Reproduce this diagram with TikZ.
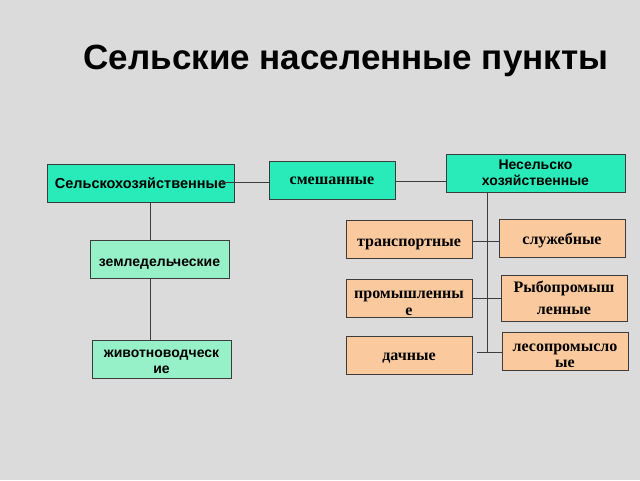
\documentclass[tikz,border=0pt]{standalone}
\usepackage{fontspec}
\setmainfont{Liberation Serif}
\newfontfamily\arialf{Liberation Sans}
\newcommand\lowtxt[2]{\raisebox{-#1}[\height][\depth]{\begin{tabular}{@{}c@{}}#2\end{tabular}}}
\definecolor{bgc}{RGB}{219,219,219}
\definecolor{aqua}{RGB}{40,235,185}
\definecolor{mint}{RGB}{150,240,200}
\definecolor{peach}{RGB}{250,202,158}
\definecolor{edge}{RGB}{60,60,60}
\tikzset{
  bx/.style={draw=edge, line width=0.8pt, minimum width=#1, minimum height=38pt, inner sep=1pt, align=center},
  topbox/.style={bx=#1, fill=aqua, font=\arialf\bfseries\fontsize{14}{16}\selectfont},
  subbox/.style={bx=#1, fill=mint, font=\arialf\bfseries\fontsize{14}{16}\selectfont},
  serbox/.style={bx=#1, fill=peach, font=\bfseries\fontsize{16}{17}\selectfont},
  ln/.style={draw=edge, line width=0.8pt}
}
\begin{document}
\begin{tikzpicture}[x=1pt,y=-1pt]
\fill[bgc] (0,0) rectangle (640,480);
\useasboundingbox (0,0) rectangle (640,480);
\node[font=\arialf\bfseries\fontsize{35}{40}\selectfont] (title) at (346,61) {Сельские населенные пункты};
\node[topbox=187pt, font=\arialf\bfseries\fontsize{14.5}{16}\selectfont] (selkh) at (140.5,183.5) {Сельскохозяйственные};
\node[topbox=126pt, font=\bfseries\fontsize{16}{17}\selectfont] (mix) at (332,180) {\lowtxt{1.5pt}{смешанные}};
\node[topbox=179pt] (nesel) at (535.5,173) {Несельско\\хозяйственные};
\node[subbox=139pt] (zeml) at (159.5,259) {\lowtxt{4pt}{земледельческие}};
\node[subbox=139pt] (zhiv) at (161.5,359.5) {\lowtxt{3pt}{животноводческ\\ие}};
\node[serbox=126pt] (trans) at (409,239.5) {\lowtxt{4pt}{транспортные}};
\node[serbox=126pt] (sluzh) at (562,238) {\lowtxt{3.5pt}{служебные}};
\node[serbox=126pt] (prom) at (409,298.5) {\lowtxt{5pt}{промышленны\\е}};
\node[serbox=126pt, font=\bfseries\fontsize{16}{22}\selectfont] (ryb) at (564,298.5) {\lowtxt{1pt}{Рыбопромыш\\ленные}};
\node[serbox=126pt, font=\bfseries\fontsize{16}{16}\selectfont] (les) at (565,351.5) {\lowtxt{5pt}{лесопромысло\\ые}};
\node[serbox=126pt] (dach) at (409,355) {\lowtxt{2pt}{дачные}};
\coordinate (tend) at (487,352);
\draw[ln] ([xshift=-12pt]selkh.east |- 0,182) -- (mix.west |- 0,182);
\draw[ln] (mix.east |- 0,181) -- (nesel.west |- 0,181);
\draw[ln] (selkh.south -| 150,0) -- (zeml.north -| 150,0);
\draw[ln] (zeml.south -| 150,0) -- (zhiv.north -| 150,0);
\draw[ln] (nesel.south -| tend) -- (tend);
\draw[ln] (trans.east |- 0,241) -- (sluzh.west |- 0,241);
\draw[ln] (prom.east |- 0,298) -- (ryb.west |- 0,298);
\draw[ln] ([xshift=5pt]dach.east |- tend) -- (tend -| les.west);
\end{tikzpicture}
\end{document}
